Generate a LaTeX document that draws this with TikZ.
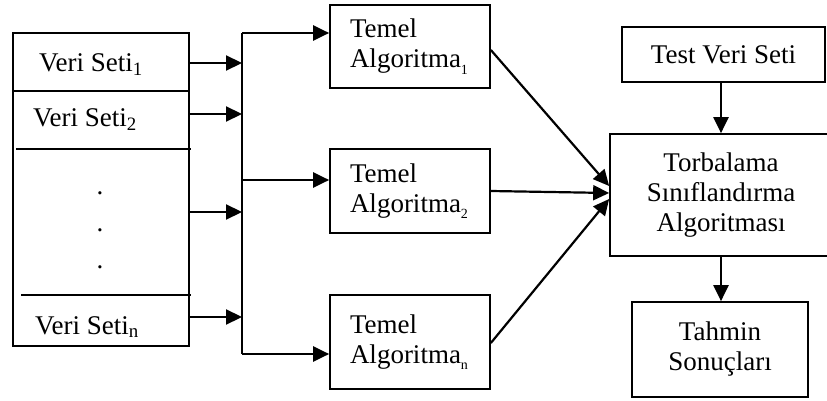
\documentclass[tikz,border=0pt]{standalone}
\usepackage{fontspec}
\setmainfont{Liberation Serif}
\usepackage{tikz}
\usetikzlibrary{positioning, arrows.meta}
\tikzstyle{arrow} = [line width=2.2pt,-{Triangle[length=16pt,width=15pt]}]
\tikzstyle{box} = [draw, line width=1.7pt, rectangle, inner sep=0pt]
\tikzstyle{algbox} = [box, minimum width=160, text width=120, align=left]
\newcommand{\algsub}[1]{\smash{\raisebox{-0.5ex}{\fontsize{14}{14}\selectfont #1}}}

\begin{document}
\begin{tikzpicture}[x=1pt, y=-1pt, every node/.style={font=\fontsize{27}{30}\selectfont}]
  \useasboundingbox (0,0) rectangle (827,401);

  % Data sets
  \node[box, minimum width=176, minimum height=313] (sets) at (101,189.5) {};
  \node (v1) at (91,65) {Veri Seti\textsubscript{1}};
  \node (v2) at (85,120) {Veri Seti\textsubscript{2}};
  \node (vn) at (87,327) {Veri Seti\textsubscript{n}};
  \foreach \y [count=\i] in {193,230,267}
    \node (d\i) at (100,\y) {.};
  \draw[line width=1.7pt] (13,91) -- (189,91);
  \draw[line width=1.7pt] (16,149) -- (191,149);
  \draw[line width=1.7pt] (21,295) -- (191,295);

  % Base algorithms
  \node[algbox, minimum height=83] (t1) at (410,46.5) {Temel\\Algoritma\algsub{1}};
  \node[algbox, minimum height=84] (t2) at (410,191) {Temel\\Algoritma\algsub{2}};
  \node[algbox, minimum height=94] (t3) at (410,342) {Temel\\Algoritma\algsub{n}};

  % Bagging side
  \node[box, minimum width=203, minimum height=55] (test) at (723.5,54.5) {Test Veri Seti};
  \node[box, minimum width=222, minimum height=122, align=center] (tor) at (721,195) {Torbalama\\Sınıflandırma\\Algoritması};
  \node[box, minimum width=176, minimum height=95, align=center] (tah) at (720,349.5) {Tahmin\\Sonuçları};

  % Bus
  \coordinate (top) at (242,33);
  \coordinate (mid) at (242,180);
  \coordinate (bot) at (242,354);
  \foreach \y [count=\i] in {63,114,212,317}
    \coordinate (b\i) at (242,\y);
  \draw[line width=2.2pt] (top) -- (bot);
  \foreach \i in {1,...,4}
    \draw[arrow] (sets.east |- b\i) -- (b\i);
  \draw[arrow] (top) -- (t1.west |- top);
  \draw[arrow] (mid) -- (t2.west |- mid);
  \draw[arrow] (bot) -- (t3.west |- bot);

  % Into the bagging classifier
  \draw[arrow] ([yshift=-3.5]t1.east) -- ([yshift=9]tor.west);
  \draw[arrow] (t2.east) -- ([yshift=2]tor.west);
  \draw[arrow] ([yshift=-1]t3.east) -- ([yshift=-4]tor.west);
  \draw[arrow] (tor.north |- test.south) -- (tor.north);
  \draw[arrow] (tor.south) -- (tor.south |- tah.north);
\end{tikzpicture}
\end{document}
